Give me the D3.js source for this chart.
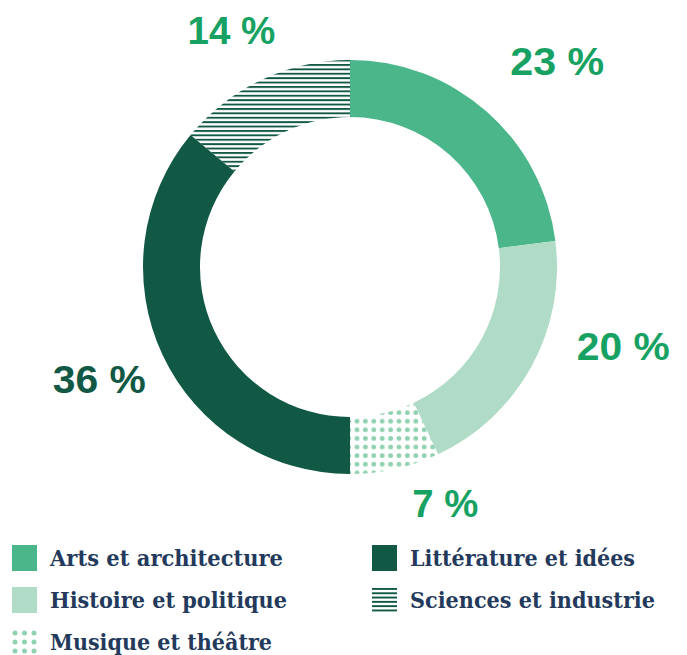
<!DOCTYPE html>
<html>
<head>
<meta charset="utf-8">
<script src="https://cdn.jsdelivr.net/npm/d3@7"></script>
<style>
  html, body { margin: 0; padding: 0; background: #ffffff; }
  svg { display: block; }
</style>
</head>
<body>
<svg id="chart" width="687" height="655"></svg>
<script>
// Share of titles by theme
const categories = ["Arts et architecture", "Histoire et politique", "Musique et théâtre", "Littérature et idées", "Sciences et industrie"];
const shares = [23, 20, 7, 36, 14];
const shareLabels = ["23 %", "20 %", "7 %", "36 %", "14 %"];

const fills = ["#4bb68a", "#b0dcc7", "url(#dots)", "#115845", "url(#stripes)"];
const labelColors = ["#17a263", "#17a263", "#17a263", "#115845", "#17a263"];

const W = 687, H = 655;
const cx = 350, cy = 267, rOuter = 207, rInner = 150;

const svg = d3.select("#chart");
const defs = svg.append("defs");

// dotted fill for "Musique et théâtre"
const dots = defs.append("pattern")
  .attr("id", "dots").attr("patternUnits", "userSpaceOnUse")
  .attr("x", 364).attr("y", 416.5).attr("width", 8.4).attr("height", 8.6);
dots.append("circle").attr("cx", 4.2).attr("cy", 4.3).attr("r", 2.4).attr("fill", "#8fd1b1");

// horizontal hatching for "Sciences et industrie"
const stripes = defs.append("pattern")
  .attr("id", "stripes").attr("patternUnits", "userSpaceOnUse")
  .attr("x", 0).attr("y", 61).attr("width", 10).attr("height", 4.4);
stripes.append("rect").attr("x", 0).attr("y", 0).attr("width", 10).attr("height", 1.9).attr("fill", "#115845");

const pie = d3.pie().sort(null).value(d => d).startAngle(0).endAngle(2 * Math.PI);
const arc = d3.arc().innerRadius(rInner).outerRadius(rOuter);
const arcs = pie(shares);

const g = svg.append("g").attr("transform", `translate(${cx},${cy})`);
g.selectAll("path.slice")
  .data(arcs)
  .join("path")
  .attr("class", "slice")
  .attr("d", arc)
  .attr("fill", (d, i) => fills[i]);

// percentage labels placed outside the ring, along each slice's mid-angle
const labelRadius = [265, 272, 240, 255, 255];
const labelNudge = [[32, -6], [35, -51], [43, 3], [-20, 4], [-10, -5]];
const labelWidth = [94, 93, 66, 93, 88];
g.selectAll("text.share")
  .data(arcs)
  .join("text")
  .attr("class", "share")
  .attr("x", (d, i) => {
    const a = (d.startAngle + d.endAngle) / 2;
    return Math.sin(a) * labelRadius[i] + labelNudge[i][0];
  })
  .attr("y", (d, i) => {
    const a = (d.startAngle + d.endAngle) / 2;
    return -Math.cos(a) * labelRadius[i] + labelNudge[i][1];
  })
  .attr("text-anchor", "middle")
  .attr("dominant-baseline", "central")
  .attr("font-family", "'Liberation Sans', Arial, sans-serif")
  .attr("font-weight", 700)
  .attr("font-size", 38)
  .attr("fill", (d, i) => labelColors[i])
  .attr("textLength", (d, i) => labelWidth[i])
  .attr("lengthAdjust", "spacingAndGlyphs")
  .text((d, i) => shareLabels[i]);

// legend: two columns
const legendPos = [
  { x: 12, y: 545, w: 233 },
  { x: 12, y: 587, w: 237 },
  { x: 12, y: 629, w: 222 },
  { x: 372, y: 545, w: 225 },
  { x: 372, y: 587, w: 245 }
];

const legend = svg.append("g");
categories.forEach((name, i) => {
  const p = legendPos[i];
  const item = legend.append("g").attr("transform", `translate(${p.x},${p.y})`);
  if (i === 2) {
    const pts = d3.range(9).map(k => [k % 3, Math.floor(k / 3)]);
    item.selectAll("circle").data(pts).join("circle")
      .attr("cx", d => 3 + d[0] * 9.5)
      .attr("cy", d => 4 + d[1] * 9)
      .attr("r", 2.5)
      .attr("fill", "#8fd1b1");
  } else if (i === 4) {
    item.selectAll("rect").data(d3.range(6)).join("rect")
      .attr("x", 0).attr("y", d => 1 + d * 4.3)
      .attr("width", 25).attr("height", 1.9)
      .attr("fill", "#115845");
  } else {
    item.append("rect").attr("width", 25).attr("height", 26).attr("fill", fills[i]);
  }
  item.append("text")
    .attr("x", 38).attr("y", 21)
    .attr("font-family", "'DejaVu Serif', serif")
    .attr("font-weight", 700)
    .attr("font-size", 22)
    .attr("fill", "#243a5c")
    .attr("textLength", p.w)
    .attr("lengthAdjust", "spacingAndGlyphs")
    .text(name);
});
</script>
</body>
</html>
